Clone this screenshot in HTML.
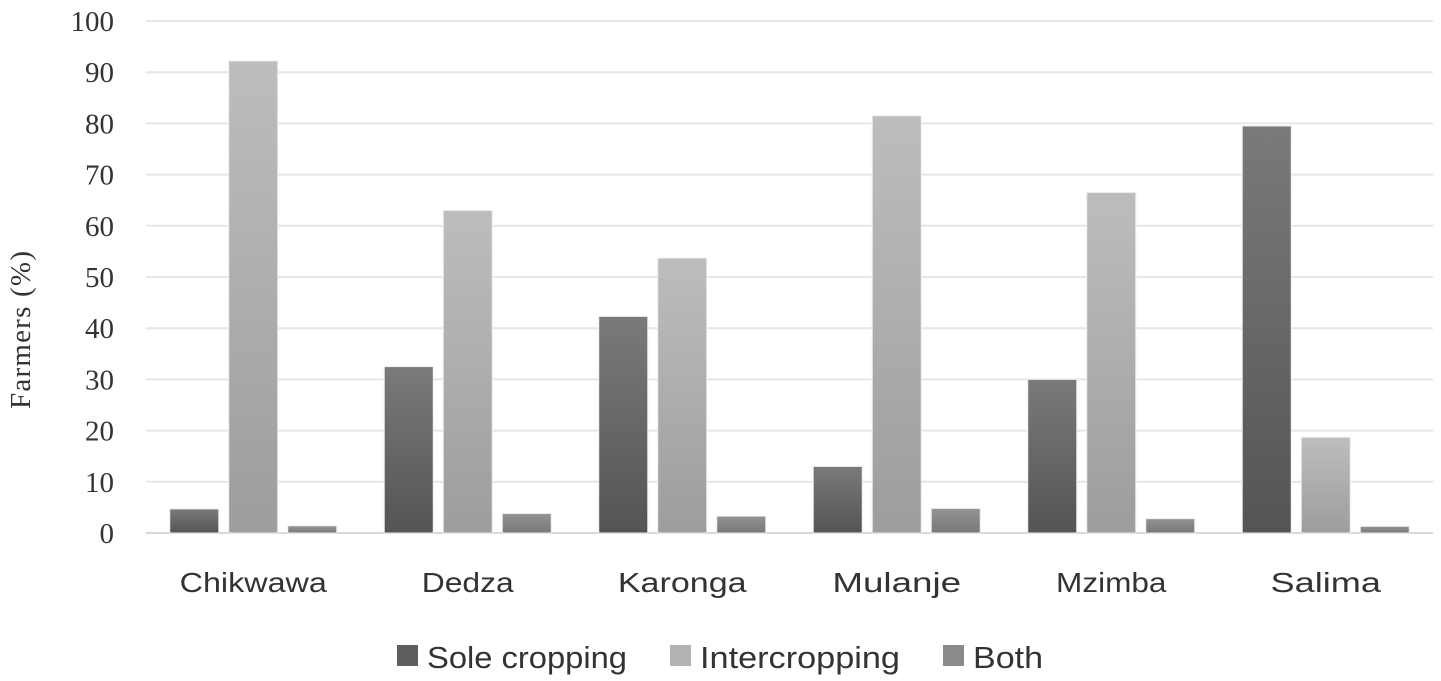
<!DOCTYPE html>
<html><head><meta charset="utf-8"><style>
html,body{margin:0;padding:0;background:#fff;}
svg{display:block;}
</style></head><body>
<svg id="chart" width="1441" height="681" xmlns="http://www.w3.org/2000/svg">
<defs>
<linearGradient id="gSole" x1="0" y1="0" x2="0" y2="1"><stop offset="0" stop-color="#7a7a7a"/><stop offset="1" stop-color="#545454"/></linearGradient>
<linearGradient id="gInter" x1="0" y1="0" x2="0" y2="1"><stop offset="0" stop-color="#bdbdbd"/><stop offset="1" stop-color="#9d9d9d"/></linearGradient>
<linearGradient id="gBoth" x1="0" y1="0" x2="0" y2="1"><stop offset="0" stop-color="#939393"/><stop offset="1" stop-color="#787878"/></linearGradient>
</defs>
<g id="grid"></g>
<g id="bars"></g>
<g id="labels"></g>
<text x="30" y="330" transform="rotate(-90 30 330)" text-anchor="middle" font-family="Liberation Serif, serif" font-size="29" fill="#333" textLength="158">Farmers (%)</text>
<g id="legend"></g>
</svg>
<script>
const categories = ["Chikwawa","Dedza","Karonga","Mulanje","Mzimba","Salima"];
const soleValues = [4.7, 32.5, 42.3, 13, 30, 79.5];
const interValues = [92.2, 63, 53.7, 81.5, 66.5, 18.7];
const bothValues = [1.4, 3.8, 3.3, 4.8, 2.8, 1.3];
const yTicks = [0,10,20,30,40,50,60,70,80,90,100];
const seriesNames = ["Sole cropping","Intercropping","Both"];

const NS="http://www.w3.org/2000/svg";
const x0=146, x1=1433, yBase=533, yTop=21;
const y = v => yBase - (v/100)*(yBase-yTop);
const catW=(x1-x0)/categories.length;
function mk(tag,attrs,parent){const e=document.createElementNS(NS,tag);for(const k in attrs)e.setAttribute(k,attrs[k]);parent.appendChild(e);return e;}
const grid=document.getElementById('grid'), bars=document.getElementById('bars'), labels=document.getElementById('labels'), legend=document.getElementById('legend');
yTicks.forEach(t=>{
  const l=mk('line',{x1:x0,x2:x1,y1:y(t),y2:y(t),stroke:t===0?'#d6d9de':'#e3e6ea','stroke-width':2},grid);
  
  
  const tx=mk('text',{x:114,y:y(t)+10,'text-anchor':'end','font-family':'Liberation Serif, serif','font-size':29,fill:'#333'},labels);
  tx.textContent=t;
  
  
});
const series=[soleValues,interValues,bothValues], fills=['url(#gSole)','url(#gInter)','url(#gBoth)'], keys=['sole','inter','both'];
const bw=49, gap=10;
categories.forEach((c,i)=>{
  const cx=x0+catW*(i+0.5);
  series.forEach((s,j)=>{
    const bx=cx-(1.5*bw+gap)+j*(bw+gap);
    const r=mk('rect',{x:bx,y:y(s[i]),width:bw,height:yBase-y(s[i]),fill:fills[j],stroke:'#eee','stroke-width':1},bars);
    
    
  });
  const t=mk('text',{x:cx,y:592,'text-anchor':'middle','font-family':'Liberation Sans, sans-serif','font-size':28,fill:'#333',textLength:c.length*18.4,lengthAdjust:'spacingAndGlyphs'},labels);
  t.textContent=c;
  
  
});
const legX=[397,670,943], legF=['#5e5e5e','#b3b3b3','#8a8a8a'], legW=[200,200,70];
seriesNames.forEach((n,j)=>{
  const g=mk('g',{},legend);
  
  
  mk('rect',{x:legX[j],y:645,width:21,height:21,fill:legF[j]},g);
  const t=mk('text',{x:legX[j]+30,y:668,'font-family':'Liberation Sans, sans-serif','font-size':31,fill:'#333',textLength:legW[j],lengthAdjust:'spacingAndGlyphs'},g);
  t.textContent=n;
});
</script>
</body></html>
